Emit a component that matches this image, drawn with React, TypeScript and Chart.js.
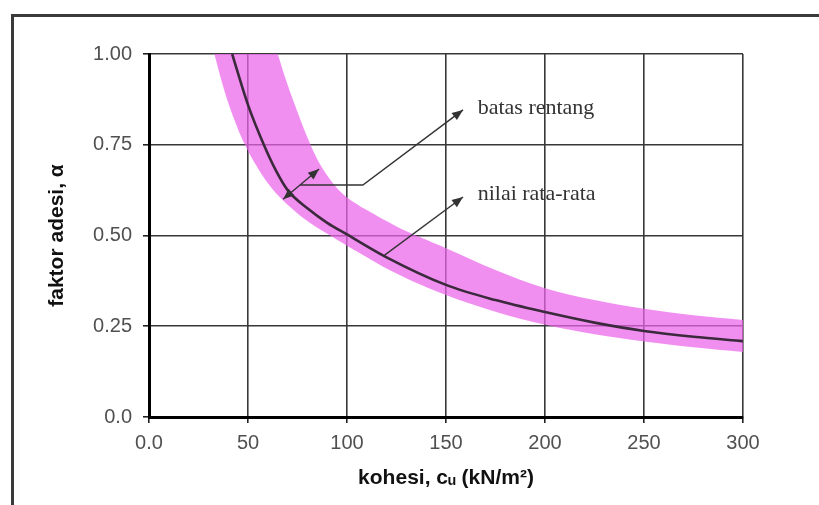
import React, { useEffect, useRef } from "react";
import { Chart, registerables } from "chart.js";

Chart.register(...registerables);

// ---- data ----
const xTicks = [0, 50, 100, 150, 200, 250, 300];
const xTickLabels = ["0.0", "50", "100", "150", "200", "250", "300"];
const yTicks = [0, 0.25, 0.5, 0.75, 1.0];
const yTickLabels = ["0.0", "0.25", "0.50", "0.75", "1.00"];

// mean curve (nilai rata-rata)
const meanX = [42, 50, 58, 64, 70, 80, 90, 100, 120, 150, 175, 200, 225, 250, 275, 300];
const meanY = [1.0, 0.86, 0.75, 0.68, 0.625, 0.575, 0.535, 0.503, 0.44, 0.364, 0.322, 0.289, 0.26, 0.237, 0.221, 0.209];

// range band (batas rentang)
const lowerX = [33, 38, 43, 48, 55, 62, 70, 80, 93, 100, 125, 150, 175, 200, 225, 250, 275, 300];
const lowerY = [1.0, 0.9, 0.82, 0.755, 0.685, 0.63, 0.585, 0.54, 0.495, 0.472, 0.395, 0.336, 0.29, 0.254, 0.228, 0.208, 0.192, 0.179];
const upperX = [65, 70, 75, 80, 85, 90, 95, 100, 110, 125, 137, 150, 175, 200, 225, 250, 275, 300];
const upperY = [1.0, 0.915, 0.84, 0.77, 0.71, 0.665, 0.63, 0.605, 0.57, 0.525, 0.495, 0.465, 0.405, 0.355, 0.322, 0.298, 0.28, 0.267];

// annotations (data units)
const labelTexts = ["batas rentang", "nilai rata-rata"];
const labelX = [166, 166];
const labelY = [0.835, 0.598];
const doubleArrowX = [67.7, 85.9];
const doubleArrowY = [0.6, 0.683];
const rangeLeaderX = [76.3, 108, 158.6];
const rangeLeaderY = [0.639, 0.639, 0.846];
const meanLeaderX = [119, 158.6];
const meanLeaderY = [0.446, 0.606];

const xTitle = "kohesi, c\u1D64 (kN/m\u00B2)";
const yTitle = "faktor adesi, \u03B1";

function arrowHead(ctx: CanvasRenderingContext2D, fx: number, fy: number, tx: number, ty: number) {
  const ang = Math.atan2(ty - fy, tx - fx);
  const len = 11;
  const hw = 4.5;
  ctx.beginPath();
  ctx.moveTo(tx, ty);
  ctx.lineTo(tx - len * Math.cos(ang) + hw * Math.sin(ang), ty - len * Math.sin(ang) - hw * Math.cos(ang));
  ctx.lineTo(tx - len * Math.cos(ang) - hw * Math.sin(ang), ty - len * Math.sin(ang) + hw * Math.cos(ang));
  ctx.closePath();
  ctx.fill();
}

const decorPlugin = {
  id: "decor",
  beforeDraw(chart: any) {
    const ctx = chart.ctx as CanvasRenderingContext2D;
    ctx.save();
    ctx.fillStyle = "#ffffff";
    ctx.fillRect(0, 0, chart.width, chart.height);
    ctx.fillStyle = "#3a3a3a";
    ctx.fillRect(11, 14, 3, chart.height - 14);
    ctx.fillRect(11, 14, chart.width - 11, 3);
    ctx.restore();
  },
  afterDatasetsDraw(chart: any) {
    const ctx = chart.ctx as CanvasRenderingContext2D;
    const xs = chart.scales.x;
    const ys = chart.scales.y;
    const px = (v: number) => xs.getPixelForValue(v);
    const py = (v: number) => ys.getPixelForValue(v);
    ctx.save();
    ctx.strokeStyle = "#333333";
    ctx.fillStyle = "#333333";
    ctx.lineWidth = 1.4;

    // double arrow across band
    const ax = px(doubleArrowX[0]), ay = py(doubleArrowY[0]);
    const bx = px(doubleArrowX[1]), by = py(doubleArrowY[1]);
    ctx.beginPath();
    ctx.moveTo(ax, ay);
    ctx.lineTo(bx, by);
    ctx.stroke();
    arrowHead(ctx, bx, by, ax, ay);
    arrowHead(ctx, ax, ay, bx, by);

    // leader to "batas rentang"
    ctx.beginPath();
    rangeLeaderX.forEach((v, i) => {
      const X = px(v), Y = py(rangeLeaderY[i]);
      if (i === 0) ctx.moveTo(X, Y); else ctx.lineTo(X, Y);
    });
    ctx.stroke();
    const n = rangeLeaderX.length;
    arrowHead(ctx, px(rangeLeaderX[n - 2]), py(rangeLeaderY[n - 2]), px(rangeLeaderX[n - 1]), py(rangeLeaderY[n - 1]));

    // leader to "nilai rata-rata"
    ctx.beginPath();
    ctx.moveTo(px(meanLeaderX[0]), py(meanLeaderY[0]));
    ctx.lineTo(px(meanLeaderX[1]), py(meanLeaderY[1]));
    ctx.stroke();
    arrowHead(ctx, px(meanLeaderX[0]), py(meanLeaderY[0]), px(meanLeaderX[1]), py(meanLeaderY[1]));

    // labels
    ctx.font = '22px "Liberation Serif", "Times New Roman", serif';
    ctx.textAlign = "left";
    ctx.textBaseline = "alphabetic";
    ctx.fillStyle = "#333333";
    labelTexts.forEach((t, i) => ctx.fillText(t, px(labelX[i]), py(labelY[i])));
    ctx.restore();
  },
};

export default function App() {
  const ref = useRef<HTMLCanvasElement | null>(null);

  useEffect(() => {
    if (!ref.current) return;
    const meanData = meanX.map((x, i) => ({ x, y: meanY[i] }));
    const lowerPts = lowerX.map((x, i) => ({ x, y: lowerY[i] }));
    const upperPts = upperX.map((x, i) => ({ x, y: upperY[i] })).reverse();
    // closed outline: lower edge, then upper edge back; corner points repeated so the corners stay sharp
    const bandData = [
      lowerPts[0],
      ...lowerPts,
      lowerPts[lowerPts.length - 1],
      upperPts[0],
      ...upperPts,
      upperPts[upperPts.length - 1],
    ];
    const chart = new Chart(ref.current, {
      type: "line",
      data: {
        datasets: [
          {
            label: "nilai rata-rata",
            data: meanData,
            borderColor: "#3b2a3b",
            borderWidth: 2.6,
            pointRadius: 0,
            tension: 0.4,
            cubicInterpolationMode: "monotone",
            fill: false,
          },
          {
            label: "batas rentang",
            data: bandData,
            borderWidth: 0,
            borderColor: "rgba(0,0,0,0)",
            backgroundColor: "rgba(236, 100, 236, 0.72)",
            pointRadius: 0,
            tension: 0.35,
            fill: "shape",
          },
        ],
      },
      options: {
        responsive: false,
        animation: false,
        events: [],
        layout: { padding: { left: 0, top: 54, right: 76, bottom: 0 } },
        plugins: {
          legend: { display: false },
          tooltip: { enabled: false },
        },
        scales: {
          x: {
            type: "linear",
            min: 0,
            max: 300,
            afterBuildTicks: (s: any) => {
              s.ticks = xTicks.map((v) => ({ value: v }));
            },
            afterFit: (s: any) => {
              s.height = 88;
            },
            ticks: {
              padding: 8,
              color: "#505050",
              font: { family: '"Liberation Sans", Arial, sans-serif', size: 20 },
              maxRotation: 0,
              callback: (v: any) => xTickLabels[xTicks.indexOf(Number(v))] ?? "",
            },
            grid: { color: "#383838", lineWidth: 1.6, tickLength: 6, tickColor: "#222" },
            border: { display: true, color: "#000", width: 3 },
            title: {
              display: true,
              text: xTitle,
              color: "#111",
              font: { family: '"Liberation Sans", Arial, sans-serif', size: 21, weight: "bold" },
              padding: { top: 0, bottom: 14 },
            },
          },
          y: {
            type: "linear",
            min: 0,
            max: 1,
            afterBuildTicks: (s: any) => {
              s.ticks = yTicks.map((v) => ({ value: v }));
            },
            afterFit: (s: any) => {
              s.width = 149;
            },
            ticks: {
              padding: 11,
              color: "#505050",
              font: { family: '"Liberation Sans", Arial, sans-serif', size: 20 },
              callback: (v: any) => {
                const i = yTicks.findIndex((t) => Math.abs(t - Number(v)) < 1e-6);
                return i >= 0 ? yTickLabels[i] : "";
              },
            },
            grid: { color: "#383838", lineWidth: 1.6, tickLength: 6, tickColor: "#222" },
            border: { display: true, color: "#000", width: 3 },
            title: {
              display: true,
              text: yTitle,
              color: "#111",
              font: { family: '"Liberation Sans", Arial, sans-serif', size: 21, weight: "bold" },
              padding: { top: 45, bottom: 0 },
            },
          },
        },
      },
      plugins: [decorPlugin],
    } as any);
    return () => chart.destroy();
  }, []);

  return (
    <div style={{ position: "absolute", left: 0, top: 0, width: 819, height: 505 }}>
      <canvas ref={ref} width={819} height={505} style={{ display: "block" }} />
    </div>
  );
}
